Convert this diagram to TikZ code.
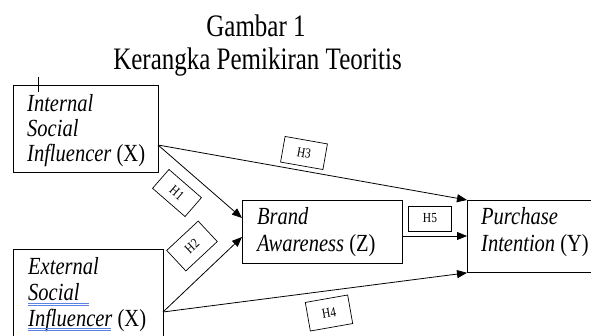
\documentclass[tikz,border=0pt]{standalone}
\usepackage{fontspec}
\setmainfont{Liberation Serif}
\usetikzlibrary{arrows.meta}
\definecolor{spell}{RGB}{90,130,225}
\newcommand{\vstretch}[2][1.2]{\scalebox{1}[#1]{#2}}
\tikzset{
  varbox/.style={draw, line width=0.8pt, inner sep=0pt},
  vartext/.style={anchor=base west, inner sep=0pt, font=\fontsize{20.5}{24}\selectfont},
  hbox/.style={draw, line width=0.7pt, minimum width=43pt, minimum height=26pt, inner sep=0pt, font=\fontsize{11.5}{13}\selectfont},
  link/.style={line width=0.8pt, -{Triangle[length=10pt,width=8pt]}},
  plain/.style={line width=0.8pt},
  titletext/.style={inner sep=0pt, anchor=base, font=\fontsize{25}{30}\selectfont},
  squig/.style={spell, line width=0.6pt}
}
\begin{document}
\begin{tikzpicture}[x=1pt,y=-1pt]
\clip (0,0) rectangle (591,336);
\fill[white] (0,0) rectangle (591,336);
% title
\node[titletext] (t1) at (256,37) {\vstretch[1.25]{Gambar 1}};
\node[titletext] (t2) at (257.5,70) {\vstretch[1.25]{Kerangka Pemikiran Teoritis}};
% boxes
\draw[varbox] (13,85) rectangle (158,172);
\coordinate (bx1) at (158,145);
\draw[plain] (38,77) -- (38,92);
\node[vartext] (i1) at (27,112) {\vstretch{\itshape Internal}};
\node[vartext] (i2) at (27,137) {\vstretch{\itshape Social}};
\node[vartext] (i3) at (27,162) {\vstretch{\itshape Influencer\/ \upshape(X)}};

\draw[varbox] (13,249) rectangle (163,345);
\coordinate (bx2) at (163,312);
\node[vartext] (e1) at (28,275) {\vstretch{\itshape External}};
\node[vartext] (e2) at (28,300.5) {\vstretch{\itshape Social}};
\node[vartext] (e3) at (28,326.5) {\vstretch{\itshape Influencer\/ \upshape(X)}};
\draw[squig] (28,303.5) -- (89,303.5);
\draw[squig] (28,305.5) -- (89,305.5);
\draw[squig] (28,328.5) -- (111,328.5);
\draw[squig] (28,330.5) -- (111,330.5);

\node[varbox, anchor=north west, minimum width=160pt, minimum height=63pt] (bz) at (242,200) {};
\node[vartext] (z1) at (257,225) {\vstretch{\itshape Brand}};
\node[vartext] (z2) at (257,252) {\vstretch{\itshape Awareness\/ \upshape(Z)}};

\node[varbox, anchor=north west, minimum width=140pt, minimum height=72pt] (py) at (467,200) {};
\node[vartext] (y1) at (481,225) {\vstretch{\itshape Purchase}};
\node[vartext] (y2) at (481,252) {\vstretch{\itshape Intention\/ \upshape(Y)}};

% connectors
\coordinate (bzin1) at (242,218);
\coordinate (bzin2) at (242,237);
\coordinate (pyin5) at (467,236);
\draw[link] (bx1) -- (py.north west);
\draw[link] (bx1) -- (bzin1);
\draw[link] (bx2) -- (bzin2);
\draw[link] (bx2) -- (py.south west);
\draw[link] (bz.east |- pyin5) -- (pyin5);

% hypothesis labels
\node[hbox, rotate=-10, fill=white] (h3) at (304,153) {\vstretch{H3}};
\node[hbox, rotate=-41, minimum height=25pt] (h1) at (177,193) {\vstretch{H1}};
\node[hbox, rotate=43, minimum height=28pt] (h2) at (192,246) {\vstretch{H2}};
\node[hbox, rotate=10, minimum height=29pt] (h4) at (329,313) {\vstretch{H4}};
\node[hbox, minimum height=25pt] (h5) at (430,218.5) {\vstretch{H5}};
\end{tikzpicture}
\end{document}
